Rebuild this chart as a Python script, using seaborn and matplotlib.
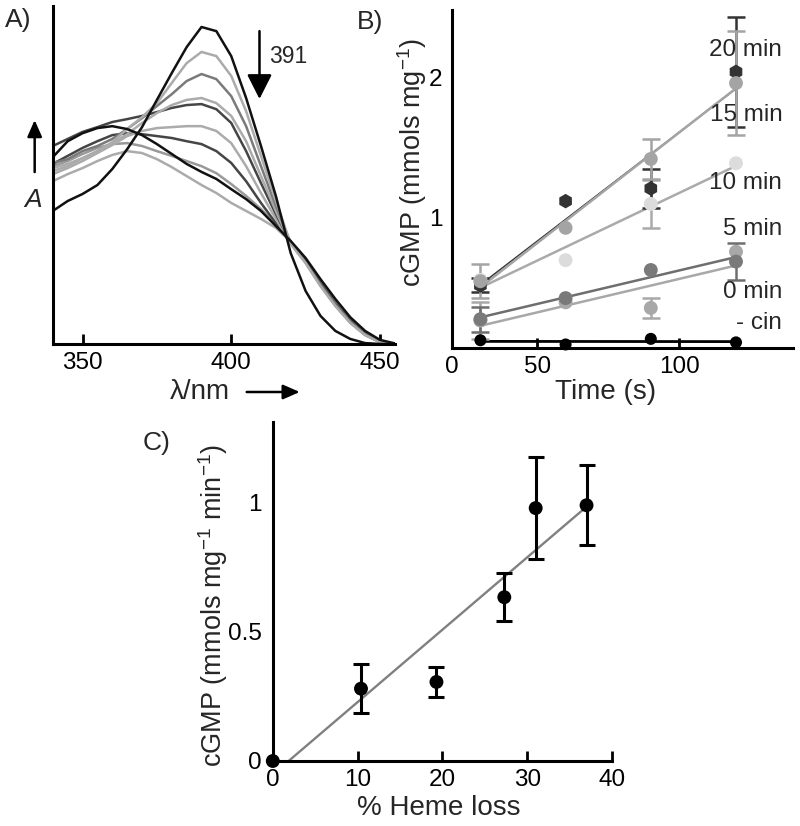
import numpy as np
import matplotlib
matplotlib.use('Agg')
import matplotlib.pyplot as plt
import seaborn as sns

# ---------------- Panel A: UV-vis spectra (absorbance, arb. units) ----------------
wavelength = [340, 345, 350, 355, 360, 365, 370, 375, 380, 385, 390, 395,
              400, 405, 410, 415, 420, 425, 430, 435, 440, 445, 450, 455]

abs_initial = [0.416, 0.447, 0.469, 0.497, 0.547, 0.609, 0.678, 0.763, 0.847, 0.928, 0.991, 0.978,
               0.900, 0.769, 0.619, 0.463, 0.284, 0.166, 0.088, 0.041, 0.016, 0.003, 0.0, 0.0]
abs_t1 = [0.550, 0.563, 0.581, 0.603, 0.631, 0.672, 0.709, 0.753, 0.816, 0.878, 0.913, 0.900,
          0.838, 0.728, 0.588, 0.447, 0.313, 0.253, 0.181, 0.119, 0.066, 0.028, 0.006, 0.0]
abs_t2 = [0.566, 0.578, 0.603, 0.619, 0.641, 0.672, 0.706, 0.744, 0.781, 0.822, 0.844, 0.828,
          0.775, 0.681, 0.556, 0.431, 0.316, 0.256, 0.184, 0.121, 0.068, 0.029, 0.006, 0.0]
abs_t3 = [0.541, 0.556, 0.581, 0.603, 0.628, 0.656, 0.691, 0.722, 0.747, 0.763, 0.769, 0.753,
          0.713, 0.634, 0.525, 0.416, 0.313, 0.254, 0.183, 0.120, 0.067, 0.028, 0.006, 0.0]
abs_t4 = [0.619, 0.641, 0.663, 0.678, 0.694, 0.703, 0.713, 0.725, 0.738, 0.747, 0.750, 0.734,
          0.691, 0.603, 0.503, 0.406, 0.318, 0.258, 0.186, 0.123, 0.069, 0.030, 0.007, 0.0]
abs_t5 = [0.531, 0.550, 0.572, 0.597, 0.622, 0.650, 0.666, 0.675, 0.678, 0.681, 0.681, 0.666,
          0.628, 0.556, 0.472, 0.391, 0.315, 0.257, 0.186, 0.124, 0.070, 0.031, 0.007, 0.0]
abs_t6 = [0.563, 0.588, 0.613, 0.634, 0.653, 0.659, 0.656, 0.650, 0.644, 0.634, 0.625, 0.603,
          0.566, 0.509, 0.441, 0.378, 0.317, 0.260, 0.190, 0.127, 0.073, 0.032, 0.008, 0.0]
abs_t7 = [0.556, 0.572, 0.594, 0.613, 0.625, 0.628, 0.619, 0.603, 0.588, 0.572, 0.556, 0.534,
          0.500, 0.463, 0.422, 0.375, 0.318, 0.262, 0.192, 0.130, 0.075, 0.034, 0.009, 0.0]
abs_t8 = [0.509, 0.531, 0.550, 0.572, 0.591, 0.603, 0.597, 0.578, 0.553, 0.525, 0.497, 0.472,
          0.441, 0.416, 0.391, 0.363, 0.320, 0.264, 0.195, 0.132, 0.077, 0.035, 0.009, 0.0]
abs_final = [0.584, 0.634, 0.659, 0.675, 0.681, 0.672, 0.653, 0.625, 0.594, 0.563, 0.538, 0.516,
             0.484, 0.453, 0.416, 0.369, 0.322, 0.269, 0.203, 0.141, 0.084, 0.041, 0.013, 0.002]

# ---------------- Panel B: cGMP vs time ----------------
time_s = [30, 60, 90, 120]
cgmp_nocin = [0.13, 0.10, 0.14, 0.115]
cgmp_0 = [0.27, 0.40, 0.36, 0.76]
err_0 = [0.13, 0, 0.07, 0]
cgmp_5 = [0.28, 0.43, 0.63, 0.69]
err_5 = [0.09, 0, 0, 0.13]
cgmp_10 = [0.56, 0.70, 1.10, 1.39]
err_10 = [0, 0, 0.17, 0]
cgmp_15 = [0.55, 0.93, 1.42, 1.96]
err_15 = [0.12, 0, 0.14, 0.37]
cgmp_20 = [0.52, 1.12, 1.21, 2.04]
err_20 = [0.05, 0, 0.14, 0.39]
series_labels = ['20 min', '15 min', '10 min', '5 min', '0 min', '- cin']

# ---------------- Panel C: rate vs heme loss ----------------
heme_loss = [0, 10.4, 19.3, 27.3, 31.0, 37.0]
rate = [0.0, 0.28, 0.306, 0.634, 0.979, 0.99]
rate_err = [0, 0.095, 0.058, 0.094, 0.197, 0.155]

sns.set_theme(style='ticks')
plt.rcParams['font.family'] = ['Liberation Sans', 'DejaVu Sans']
plt.rcParams['mathtext.default'] = 'regular'
FS = 17.5      # tick labels / annotations
FS_X = 20      # x axis labels
FS_Y = 19.5    # y axis labels

fig = plt.figure(figsize=(8, 8.26), dpi=100)
ax_a = fig.add_axes([0.066, 0.5835, 0.4275, 0.409])
ax_b = fig.add_axes([0.565, 0.5787, 0.426, 0.4092])
ax_c = fig.add_axes([0.341, 0.0787, 0.424, 0.410])

for ax in (ax_a, ax_b, ax_c):
    for side in ('top', 'right'):
        ax.spines[side].set_visible(False)
    for side in ('left', 'bottom'):
        ax.spines[side].set_linewidth(2.2)
        ax.spines[side].set_color('black')
    ax.set_facecolor('white')
    ax.tick_params(axis='x', direction='in', length=7, width=2, labelsize=FS, pad=6, colors='black')
    ax.tick_params(axis='y', length=0, labelsize=FS, pad=7, colors='black')

# --- A ---
spectra = [(abs_t8, '#ababab'), (abs_t7, '#999999'), (abs_t6, '#454545'), (abs_t5, '#ababab'),
           (abs_t4, '#454545'), (abs_t3, '#ababab'), (abs_t2, '#7a7a7a'), (abs_t1, '#ababab'),
           (abs_final, '#111111'), (abs_initial, '#111111')]
for vals, col in spectra:
    sns.lineplot(x=wavelength, y=vals, color=col, lw=1.8, ax=ax_a)
ax_a.set_xlim(340, 455)
ax_a.set_ylim(0, 1.056)
ax_a.set_xticks([350, 400, 450])
ax_a.set_yticks([])
ax_a.set_xlabel('λ/nm', fontsize=FS_X)
ax_a.xaxis.set_label_coords(0.43, -0.142)
ax_a.xaxis.label.set_verticalalignment('center')
ax_a.set_ylabel('')
small_head = dict(arrowstyle='-|>,head_length=0.5,head_width=0.22', color='black',
                  lw=1.8, mutation_scale=20, shrinkA=0, shrinkB=0)
ax_a.annotate('', xy=(0.722, -0.142), xytext=(0.567, -0.142), xycoords='axes fraction',
              arrowprops=small_head, annotation_clip=False)
ax_a.annotate('', xy=(-0.053, 0.663), xytext=(-0.053, 0.509), xycoords='axes fraction',
              arrowprops=small_head, annotation_clip=False)
ax_a.text(-0.058, 0.426, 'A', style='italic', fontsize=19, ha='center', va='center',
          transform=ax_a.transAxes)
ax_a.annotate('', xy=(409.5, 0.766), xytext=(409.5, 0.978),
              arrowprops=dict(arrowstyle='-|>,head_length=0.75,head_width=0.38', color='black',
                              lw=1.8, mutation_scale=20, shrinkA=0, shrinkB=0))
ax_a.text(412.8, 0.90, '391', fontsize=16.5, ha='left', va='center')

# --- B ---
b_series = [
    (cgmp_nocin, None, '#000000', '#000000', 'o', 75, 2.0),
    (cgmp_0, err_0, '#a8a8a8', '#a8a8a8', 'o', 100, 1.8),
    (cgmp_5, err_5, '#7a7a7a', '#6e6e6e', 'o', 100, 1.8),
    (cgmp_10, err_10, '#dcdcdc', '#aaaaaa', 'o', 100, 1.8),
    (cgmp_20, err_20, '#333333', '#333333', 'h', 110, 1.1),
    (cgmp_15, err_15, '#a4a4a4', '#a4a4a4', 'o', 100, 1.8),
]
for vals, errs, mcol, lcol, mk, size, lw in b_series:
    sns.regplot(x=time_s, y=vals, ci=None, scatter=False, color=lcol,
                line_kws={'lw': lw}, ax=ax_b)
    if errs is not None:
        t = np.array(time_s)
        v = np.array(vals)
        e = np.array(errs)
        m = e > 0
        ax_b.errorbar(t[m], v[m], yerr=e[m], fmt='none', ecolor=lcol, elinewidth=1.8,
                      capsize=6.5, capthick=1.8, zorder=3)
    sns.scatterplot(x=time_s, y=vals, color=mcol, marker=mk, s=size, edgecolor='none',
                    ax=ax_b, zorder=4, clip_on=False)

label_y = [2.196, 1.733, 1.249, 0.922, 0.473, 0.253]
for lab, yy in zip(series_labels, label_y):
    ax_b.text(136.3, yy, lab, fontsize=FS, ha='right', va='center')
ax_b.set_xlim(20, 140)
ax_b.set_ylim(0.075, 2.48)
ax_b.set_xticks([20, 50, 100])
ax_b.set_xticklabels(['0', '50', '100'])
ax_b.set_yticks([1, 2])
ax_b.set_yticklabels(['1', '2'])
ax_b.set_xlabel('Time (s)', fontsize=FS_X)
ax_b.xaxis.set_label_coords(0.451, -0.129)
ax_b.xaxis.label.set_verticalalignment('center')
ax_b.set_ylabel('cGMP (mmols mg$^{-1}$)', fontsize=FS_Y)
ax_b.yaxis.set_label_coords(-0.118, 0.55)
ax_b.yaxis.label.set_verticalalignment('center')

# --- C ---
sns.regplot(x=heme_loss, y=rate, ci=None, scatter=False, color='#808080',
            line_kws={'lw': 1.7}, ax=ax_c)
hx = np.array(heme_loss)
hy = np.array(rate)
he = np.array(rate_err)
m = he > 0
ax_c.errorbar(hx[m], hy[m], yerr=he[m], fmt='none', ecolor='black', elinewidth=2.2,
              capsize=6, capthick=2.2, zorder=3)
sns.scatterplot(x=heme_loss, y=rate, color='black', s=100, edgecolor='none', ax=ax_c,
                zorder=4, clip_on=False)
ax_c.set_xlim(0, 40)
ax_c.set_ylim(0, 1.311)
ax_c.set_xticks([0, 10, 20, 30, 40])
ax_c.set_yticks([0, 0.5, 1])
ax_c.set_yticklabels(['0', '0.5', '1'])
ax_c.tick_params(axis='y', pad=8)
ax_c.set_xlabel('% Heme loss', fontsize=FS_X)
ax_c.xaxis.set_label_coords(0.49, -0.139)
ax_c.xaxis.label.set_verticalalignment('center')
ax_c.set_ylabel('cGMP (mmols mg$^{-1}$ min$^{-1}$)', fontsize=FS_Y)
ax_c.yaxis.set_label_coords(-0.175, 0.46)
ax_c.yaxis.label.set_verticalalignment('center')

# panel letters
fig.text(5 / 800, 1 - 20 / 826, 'A)', fontsize=19, ha='left', va='center')
fig.text(357 / 800, 1 - 22 / 826, 'B)', fontsize=19, ha='left', va='center')
fig.text(143 / 800, 1 - 443 / 826, 'C)', fontsize=19, ha='left', va='center')

fig.savefig('out.png', dpi=100, facecolor='white')
